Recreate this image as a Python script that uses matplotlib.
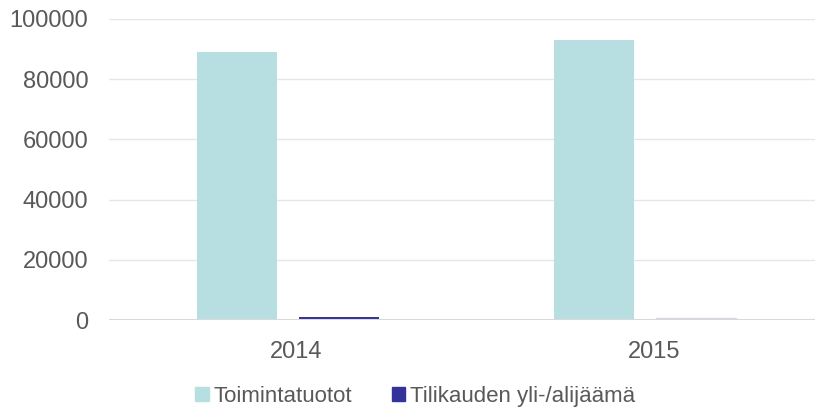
import matplotlib
matplotlib.use("Agg")
import matplotlib.pyplot as plt
import numpy as np

# chart data
years = ["2014", "2015"]
toimintatuotot = [89000, 93000]
ylijaama = [1000, 500]
series_names = ["Toimintatuotot", "Tilikauden yli-/alijäämä"]
yticks = [0, 20000, 40000, 60000, 80000, 100000]

plt.rcParams['font.family'] = ['Liberation Sans', 'DejaVu Sans']

fig = plt.figure(figsize=(8.15, 4.11), dpi=100)
ax = fig.add_axes([109 / 815, 1 - 320 / 411, 1 - 109 / 815, 301 / 411])

x = np.arange(len(years))
w = 0.224
off = 0.143
ax.bar(x - off, toimintatuotot, width=w, color="#B7DFE2", label=series_names[0], zorder=2)
bars = ax.bar(x + off, ylijaama, width=w, color="#333399", label=series_names[1], zorder=2)
# 2015 bar shows up very pale in the original
bars[1].set_color("#D8D8E6")

ax.set_ylim(0, 100000)
ax.set_xlim(-0.5, 1.476)
ax.set_yticks(yticks)
ax.set_yticklabels([str(t) for t in yticks])
ax.set_xticks(x + 0.025)
ax.set_xticklabels(years)

for t in yticks[1:]:
    ax.axhline(t, color="#E6E6E6", lw=1, zorder=1)
ax.axhline(0, color="#D9D9D9", lw=1.5, zorder=3)

for s in ax.spines.values():
    s.set_visible(False)
ax.tick_params(axis="both", length=0, labelsize=17, colors="#595959")
ax.tick_params(axis="y", pad=15)
ax.tick_params(axis="x", pad=15)

handles = [plt.Rectangle((0, 0), 1, 1, color="#B7DFE2"),
           plt.Rectangle((0, 0), 1, 1, color="#333399")]
leg = fig.legend(handles, series_names, loc="center", bbox_to_anchor=(415 / 815, 1 - 396 / 411),
                 ncol=2, frameon=False, fontsize=16, handlelength=0.6, handleheight=0.6,
                 handletextpad=0.2, columnspacing=1.8)
for txt in leg.get_texts():
    txt.set_color("#595959")

fig.savefig("out.png", dpi=100)
